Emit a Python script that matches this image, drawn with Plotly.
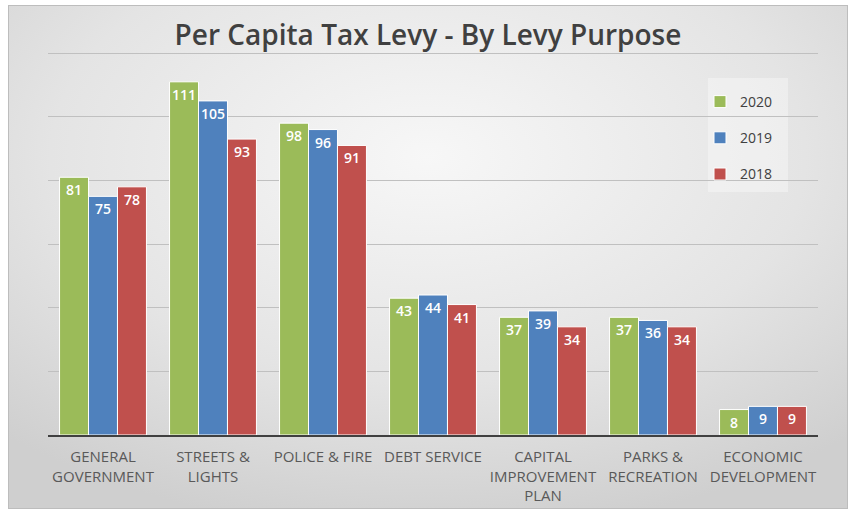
import base64
import plotly.graph_objects as go

categories = ["GENERAL<br>GOVERNMENT", "STREETS &<br>LIGHTS", "POLICE & FIRE", "DEBT SERVICE",
              "CAPITAL<br>IMPROVEMENT<br>PLAN", "PARKS &<br>RECREATION", "ECONOMIC<br>DEVELOPMENT"]
years = ["2020", "2019", "2018"]
v2020 = [81, 111, 98, 43, 37, 37, 8]
v2019 = [75, 105, 96, 44, 39, 36, 9]
v2018 = [78, 93, 91, 41, 34, 34, 9]
colors = ["#9BBB59", "#4F81BD", "#C0504D"]

W, H = 856, 513
ML, MR, MT, MB = 48, 38, 50, 78
PW, PH = W - ML - MR, H - MT - MB

svg = f'''<svg xmlns="http://www.w3.org/2000/svg" width="{W}" height="{H}" viewBox="0 0 {W} {H}">
<defs><radialGradient id="g" cx="50%" cy="30%" r="75%">
<stop offset="0%" stop-color="#f7f7f7"/><stop offset="60%" stop-color="#e4e4e4"/><stop offset="100%" stop-color="#cfcfcf"/>
</radialGradient></defs>
<rect x="0" y="0" width="{W}" height="{H}" fill="#ffffff"/>
<rect x="8.5" y="5.5" width="{W-17}" height="{H-10}" fill="url(#g)" stroke="#bdbdbd" stroke-width="1"/>
<rect x="708" y="78" width="80" height="114" fill="#ffffff" fill-opacity="0.35"/>
</svg>'''
src = "data:image/svg+xml;base64," + base64.b64encode(svg.encode()).decode()

fig = go.Figure()
for name, vals, c in zip(years, [v2020, v2019, v2018], colors):
    fig.add_trace(go.Bar(
        x=categories, y=vals, name=name, legendgroup=name,
        marker=dict(color=c, line=dict(color="white", width=1)),
        text=[str(v) for v in vals], textposition="inside", insidetextanchor="end",
        textangle=0, constraintext="none",
        textfont=dict(family="Open Sans", size=14, color="white", weight=600),
    ))

fig.update_layout(
    width=W, height=H,
    margin=dict(l=ML, r=MR, t=MT, b=MB),
    paper_bgcolor="white", plot_bgcolor="rgba(0,0,0,0)",
    barmode="group", bargap=0.21, bargroupgap=0,
    title=dict(text="Per Capita Tax Levy - By Levy Purpose", x=0.5, xanchor="center",
               y=1 - 35 / H, yanchor="middle",
               font=dict(family="Open Sans", size=28, color="#404040", weight=600)),
    legend=dict(x=(700 - ML) / PW, y=1 - (86 - MT) / PH, xanchor="left", yanchor="top",
                bgcolor="rgba(0,0,0,0)", font=dict(family="Open Sans", size=14, color="#404040"),
                itemwidth=30, tracegroupgap=15),
    font=dict(family="Open Sans", color="#595959"),
    images=[dict(source=src, xref="paper", yref="paper", x=-ML / PW, y=1 + MT / PH,
                 sizex=W / PW, sizey=H / PH, xanchor="left", yanchor="top",
                 sizing="stretch", layer="below")],
)
fig.update_xaxes(showline=True, linecolor="#404040", linewidth=2, ticks="", ticklabelstandoff=7,
                 automargin=False,
                 tickfont=dict(family="Open Sans", size=15, color="#595959"))
fig.update_yaxes(range=[0, 121], dtick=20, showticklabels=False, gridcolor="#c0c0c0",
                 gridwidth=1, zeroline=False, showline=False, automargin=False)

fig.write_html("out.html", config={"displayModeBar": False},
               post_script="document.body.style.margin='0';")
